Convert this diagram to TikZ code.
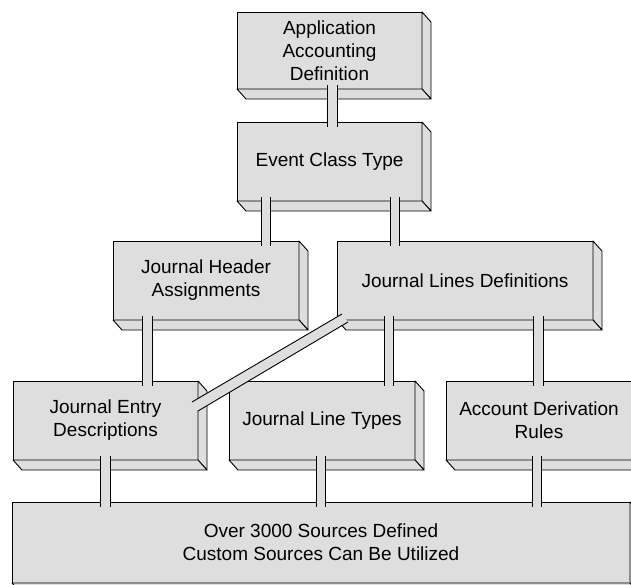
\documentclass[tikz,border=0pt]{standalone}
\usepackage{fontspec}
\setmainfont{Liberation Sans}
\usetikzlibrary{calc}
\definecolor{boxfill}{RGB}{222,222,222}
\tikzset{
  blk/.style={draw=black, fill=boxfill, line width=0.9pt, rectangle, inner sep=0pt, outer sep=0pt,
    minimum width=186pt, minimum height=79pt, align=center, font=\fontsize{19}{23}\selectfont},
  sideface/.style={draw=black, fill=boxfill, line width=0.9pt, line join=round},
  pipeline/.style={draw=black, line width=0.9pt},
}
\newcommand\extrudebox[1]{%
  \filldraw[sideface] (#1.north east) -- ++(9,10) -- ($(#1.south east)+(9,10)$) -- (#1.south east) -- cycle;
  \filldraw[sideface] (#1.south west) -- (#1.south east) -- ++(9,10) -- ($(#1.south west)+(9,10)$) -- cycle;
}
\newcommand\vpipe[4]{%
  \path (#1,0 |- #3.south) ++(0,-4) coordinate (pa);
  \path (#2,0 |- #4.north) ++(0,5) coordinate (pb);
  \fill[boxfill] (pa) rectangle (pb);
  \draw[pipeline] (pa) -- (pa |- pb);
  \draw[pipeline] (pb |- pa) -- (pb);
}
\begin{document}
\begin{tikzpicture}[x=1pt,y=-1pt]
\useasboundingbox (0,0) rectangle (631,584);
\clip (0,0) rectangle (631,584);
% boxes
\node[blk, minimum width=185pt, minimum height=77pt] (app) at (329.5,50.5) {Application\\Accounting\\Definition};
\extrudebox{app}
\node[blk, minimum width=185pt] (evt) at (329.5,161.5) {Event Class Type};
\extrudebox{evt}
\node[blk] (jha) at (206,280.5) {Journal Header\\Assignments};
\extrudebox{jha}
\node[blk, minimum width=256pt] (jld) at (465,280.5) {Journal Lines Definitions};
\extrudebox{jld}
\node[blk, minimum width=185pt] (jed) at (105.5,420.5) {Journal Entry\\Descriptions};
\extrudebox{jed}
\node[blk] (jlt) at (322,420.5) {Journal Line Types};
\extrudebox{jlt}
\node[blk] (adr) at (539,420.5) {Account Derivation\\Rules};
\extrudebox{adr}
\node[blk, minimum width=618pt, minimum height=81pt] (bot) at (321,542.5) {Over 3000 Sources Defined\\Custom Sources Can Be Utilized};
\extrudebox{bot}
% pipes
\vpipe{327}{337}{app}{evt}
\vpipe{261}{270}{evt}{jha}
\vpipe{390}{399}{evt}{jld}
\vpipe{142}{152}{jha}{jed}
\vpipe{384}{393}{jld}{jlt}
\vpipe{533}{543}{jld}{adr}
\vpipe{100}{110}{jed}{bot}
\vpipe{316}{325}{jlt}{bot}
\vpipe{532}{541}{adr}{bot}
% diagonal pipe
\path ($(jld.south west)+(5,-6)$) coordinate (d1)
      ($(jld.south west)+(11,2)$) coordinate (d2)
      ($(jed.north east)+(0,30)$) coordinate (d3)
      ($(jed.north east)+(-6,21)$) coordinate (d4);
\fill[boxfill] (d1) -- (d2) -- (d3) -- (d4) -- cycle;
\draw[pipeline] (d4) -- (d1);
\draw[pipeline] (d3) -- (d2);
\end{tikzpicture}
\end{document}
